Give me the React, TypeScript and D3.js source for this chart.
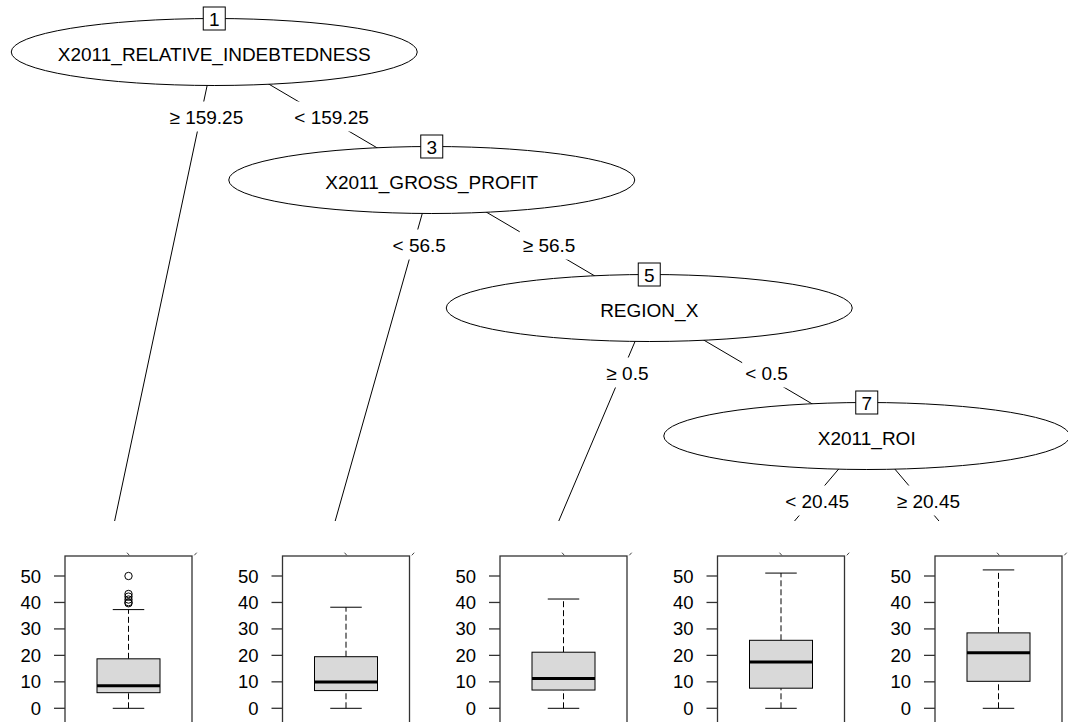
import { useEffect } from 'react';
import * as d3 from 'd3';

// Tree: inner nodes (split variables) along a right-leaning chain
const innerIds = [1, 3, 5, 7];
const splitVars = ['X2011_RELATIVE_INDEBTEDNESS', 'X2011_GROSS_PROFIT', 'REGION_X', 'X2011_ROI'];
const leftLabels = ['≥ 159.25', '< 56.5', '≥ 0.5', '< 20.45'];
const rightLabels = ['< 159.25', '≥ 56.5', '< 0.5', '≥ 20.45'];

// Terminal nodes: boxplot stats
const terminalIds = [2, 4, 6, 8, 9];
const whiskerLow = [0, 0, 0, 0, 0];
const q1 = [5.9, 6.7, 6.9, 7.6, 10.2];
const medians = [8.5, 9.9, 11.3, 17.5, 21.0];
const q3 = [18.7, 19.5, 21.2, 25.7, 28.5];
const whiskerHigh = [37.3, 38.2, 41.3, 51.1, 52.3];
const outliers: number[][] = [[50, 43.2, 42.2, 41.1, 40.1, 39.7], [], [], [], []];
const yTicks = [0, 10, 20, 30, 40, 50];

const W = 1068;
const H = 722;
const FONT = '"Liberation Sans", Arial, Helvetica, sans-serif';
const FS = 19;
const TICK_FS = 18.5;
const RX = 203;
const RY = 33.5;

const ctx = typeof document !== 'undefined' ? document.createElement('canvas').getContext('2d') : null;
function textWidth(s: string) {
  if (!ctx) return s.length * FS * 0.55;
  ctx.font = `${FS}px ${FONT}`;
  return ctx.measureText(s).width;
}

function buildTree(j: number): any {
  const leftLeaf = { terminal: j };
  const right = j === innerIds.length - 1 ? { terminal: j + 1 } : buildTree(j + 1);
  return { inner: j, children: [leftLeaf, right] };
}

export default function App() {
  useEffect(() => {
    document.body.style.margin = '0';
  }, []);

  const root = d3.hierarchy(buildTree(0));
  const leaves = root.leaves();
  const nLevels = root.height;

  const xScale = d3.scaleLinear().domain([0.5, leaves.length - 0.5]).range([105.5, 975.5]);
  const levelScale = d3.scaleLinear().domain([0, nLevels]).range([52, 564]);
  const yBox = d3.scaleLinear().domain([0, 50]).range([708.3, 576]);

  // partykit-style positions: leaf i at i + 0.5, inner node at boundary of its left subtree
  const pos = new Map<any, { x: number; y: number }>();
  root.each((n: any) => {
    if (n.children) {
      const first = leaves.indexOf(n.leaves()[0]);
      const u = first + n.children[0].leaves().length;
      pos.set(n, { x: xScale(u), y: levelScale(n.depth) });
    } else {
      const u = leaves.indexOf(n) + 0.5;
      pos.set(n, { x: xScale(u), y: levelScale(nLevels) });
    }
  });

  const links = root.links();
  const innerNodes = root.descendants().filter((n: any) => n.children);
  const termNodes = leaves;

  const panelW = 127;
  const panelTop = 556;

  return (
    <svg width={W} height={H} style={{ display: 'block', background: '#fff', fontFamily: FONT }}>
      {/* edges */}
      {links.map((l: any, i: number) => {
        const p = pos.get(l.source)!;
        const c = pos.get(l.target)!;
        return <line key={'e' + i} x1={p.x} y1={p.y} x2={c.x} y2={c.y} stroke="#000" strokeWidth={1} />;
      })}
      {/* edge labels */}
      {links.map((l: any, i: number) => {
        const p = pos.get(l.source)!;
        const c = pos.get(l.target)!;
        const j = l.source.data.inner;
        const isLeft = l.source.children[0] === l.target;
        const label = isLeft ? leftLabels[j] : rightLabels[j];
        const ly = p.y + 65.5;
        const lx = p.x + ((c.x - p.x) * (ly - p.y)) / (c.y - p.y) + 6;
        const tw = textWidth(label);
        return (
          <g key={'l' + i}>
            <rect x={lx - tw / 2 - 3} y={ly - 16} width={tw + 6} height={30} fill="#fff" />
            <text x={lx} y={ly} textAnchor="middle" dominantBaseline="central" fontSize={FS} fill="#000">
              {label}
            </text>
          </g>
        );
      })}
      {/* terminal headers hide the edge ends */}
      {termNodes.map((n: any, i: number) => {
        const t = pos.get(n)!;
        return <rect key={'h' + i} x={t.x - 100} y={521} width={200} height={panelTop - 521 + 1} fill="#fff" />;
      })}
      {/* inner nodes */}
      {innerNodes.map((n: any) => {
        const { x, y } = pos.get(n)!;
        const j = n.data.inner;
        return (
          <g key={'n' + j}>
            <ellipse cx={x} cy={y} rx={RX} ry={RY} fill="#fff" stroke="#000" strokeWidth={1} />
            <text x={x} y={y + 2} textAnchor="middle" dominantBaseline="central" fontSize={FS} fill="#000">
              {splitVars[j]}
            </text>
            <rect x={x - 11} y={y - RY - 11.5} width={22} height={23} fill="#fff" stroke="#000" strokeWidth={1} />
            <text x={x} y={y - RY + 1} textAnchor="middle" dominantBaseline="central" fontSize={FS} fill="#000">
              {innerIds[j]}
            </text>
          </g>
        );
      })}
      {/* terminal panels */}
      {termNodes.map((n: any) => {
        const k = n.data.terminal;
        const t = pos.get(n)!;
        const left = t.x - 40.5;
        const cx = left + panelW / 2;
        const bw = 63;
        return (
          <g key={'t' + terminalIds[k]}>
            <line x1={cx - 1.5} y1={552.7} x2={cx + 0.8} y2={555.3} stroke="#444" strokeWidth={1} />
            <line x1={left + panelW + 4.7} y1={552.7} x2={left + panelW + 2.3} y2={555.3} stroke="#444" strokeWidth={1} />
            <rect x={left} y={panelTop} width={panelW} height={200} fill="#fff" stroke="#333" strokeWidth={1.3} />
            {yTicks.map(v => (
              <g key={v}>
                <line x1={left - 11} x2={left} y1={yBox(v)} y2={yBox(v)} stroke="#333" strokeWidth={1.3} />
                <text x={left - 24} y={yBox(v)} textAnchor="end" dominantBaseline="central" fontSize={TICK_FS} fill="#000">
                  {v}
                </text>
              </g>
            ))}
            <line x1={cx} x2={cx} y1={yBox(whiskerLow[k])} y2={yBox(q1[k])} stroke="#000" strokeDasharray="6,3" />
            <line x1={cx} x2={cx} y1={yBox(q3[k])} y2={yBox(whiskerHigh[k])} stroke="#000" strokeDasharray="6,3" />
            <line x1={cx - bw / 4} x2={cx + bw / 4} y1={yBox(whiskerLow[k])} y2={yBox(whiskerLow[k])} stroke="#000" />
            <line x1={cx - bw / 4} x2={cx + bw / 4} y1={yBox(whiskerHigh[k])} y2={yBox(whiskerHigh[k])} stroke="#000" />
            <rect x={cx - bw / 2} y={yBox(q3[k])} width={bw} height={yBox(q1[k]) - yBox(q3[k])} fill="#d9d9d9" stroke="#000" />
            <line x1={cx - bw / 2} x2={cx + bw / 2} y1={yBox(medians[k])} y2={yBox(medians[k])} stroke="#000" strokeWidth={3} />
            {outliers[k].map((o, oi) => (
              <circle key={oi} cx={cx} cy={yBox(o)} r={3.7} fill="none" stroke="#000" strokeWidth={1} />
            ))}
          </g>
        );
      })}
    </svg>
  );
}
